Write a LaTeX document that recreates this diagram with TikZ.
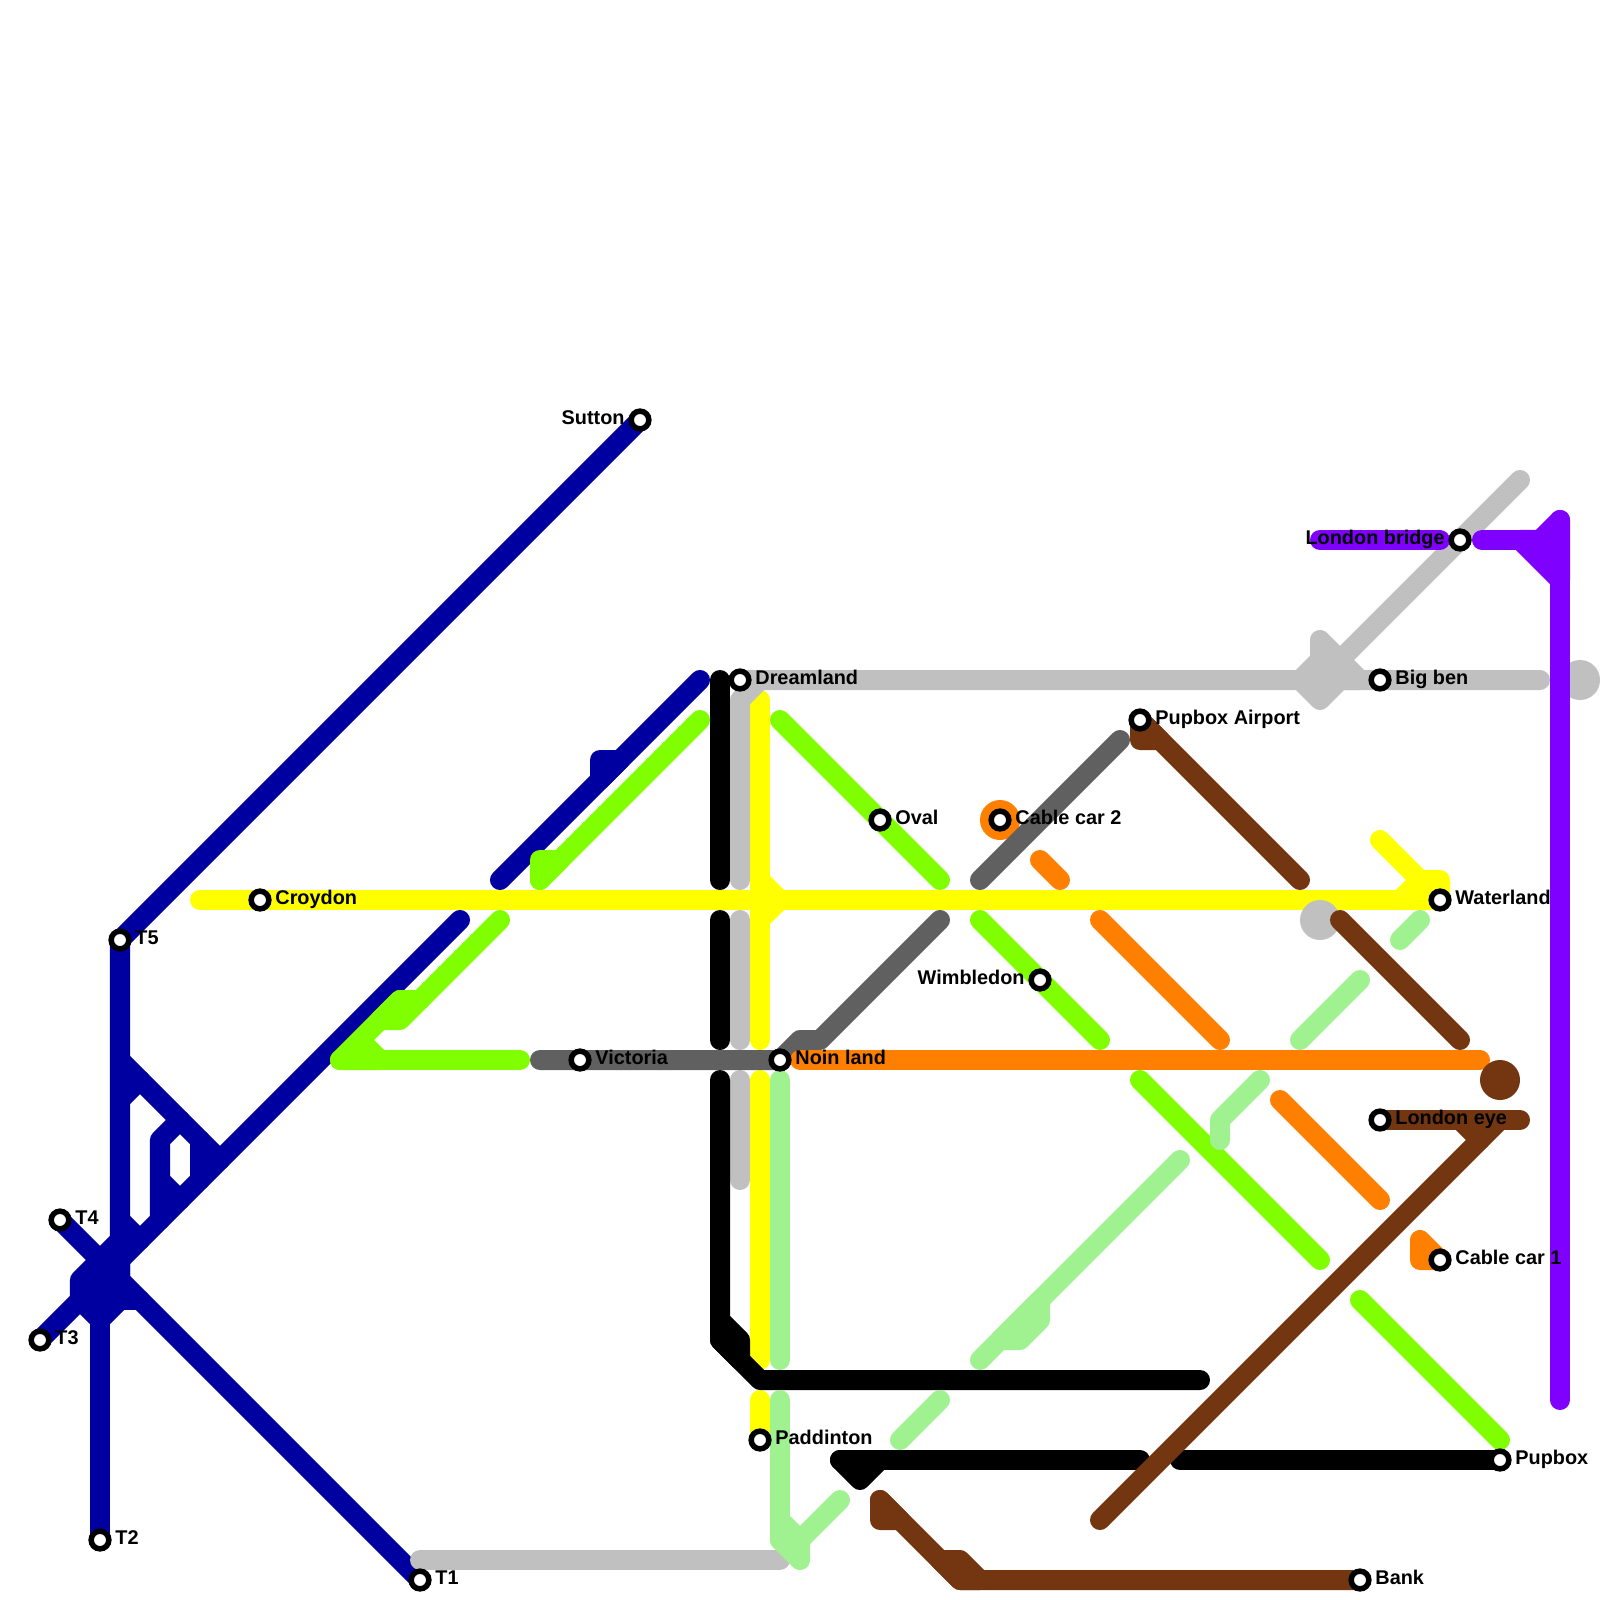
\documentclass[tikz,border=0pt]{standalone}
\usepackage{fontspec}
\setmainfont{Liberation Sans}
\definecolor{navyc}{HTML}{0000A0}
\definecolor{limec}{HTML}{80FF00}
\definecolor{mintc}{HTML}{A0F290}
\definecolor{dgrayc}{HTML}{606060}
\definecolor{lgrayc}{HTML}{C0C0C0}
\definecolor{brownc}{HTML}{733610}
\definecolor{orangec}{HTML}{FF8000}
\definecolor{purplec}{HTML}{8000FF}
\definecolor{yellowc}{HTML}{FFFF00}
\tikzset{
  mline/.style={line width=0.2cm,line cap=round,line join=round},
  navyl/.style={mline,draw=navyc},
  limel/.style={mline,draw=limec},
  mintl/.style={mline,draw=mintc},
  dgrayl/.style={mline,draw=dgrayc},
  lgrayl/.style={mline,draw=lgrayc},
  brownl/.style={mline,draw=brownc},
  orangel/.style={mline,draw=orangec},
  purplel/.style={mline,draw=purplec},
  yellowl/.style={mline,draw=yellowc},
  blackl/.style={mline,draw=black},
  stnode/.style={circle,draw=black,fill=white,line width=0.055cm,minimum size=0.177cm,inner sep=0pt},
  lblr/.style={anchor=base west,xshift=0.147cm,yshift=-0.045cm,inner sep=0pt,text=black,font=\bfseries\fontsize{5.65}{6}\selectfont},
  lbll/.style={anchor=base east,xshift=-0.147cm,yshift=-0.045cm,inner sep=0pt,text=black,font=\bfseries\fontsize{5.65}{6}\selectfont},
}
\newcommand{\stnR}[2]{\node[stnode] (#1s) at (#1) {}; \node[lblr] (#1t) at (#1) {#2};}
\newcommand{\stnL}[2]{\node[stnode] (#1s) at (#1) {}; \node[lbll] (#1t) at (#1) {#2};}
\begin{document}
\begin{tikzpicture}[x=0.01cm,y=-0.01cm]
\useasboundingbox (0,0) rectangle (1600,1600);
% stations
\coordinate (Sutton) at (640,420);
\coordinate (Croydon) at (260,900);
\coordinate (Tfive) at (120,940);
\coordinate (Tfour) at (60,1220);
\coordinate (Tthree) at (40,1340);
\coordinate (Ttwo) at (100,1540);
\coordinate (Tone) at (420,1580);
\coordinate (Dreamland) at (740,680);
\coordinate (Victoria) at (580,1060);
\coordinate (Noin) at (780,1060);
\coordinate (Oval) at (880,820);
\coordinate (CableTwo) at (1000,820);
\coordinate (Airport) at (1140,720);
\coordinate (Wimbledon) at (1040,980);
\coordinate (BigBen) at (1380,680);
\coordinate (LBridge) at (1460,540);
\coordinate (Waterland) at (1440,900);
\coordinate (LEye) at (1380,1120);
\coordinate (CableOne) at (1440,1260);
\coordinate (Pupbox) at (1500,1460);
\coordinate (Paddinton) at (760,1440);
\coordinate (Bank) at (1360,1580);
% interchange discs below the lines
\fill[lgrayc] (1580,680) circle (20);
\fill[orangec] (CableTwo) circle (20);
% navy
\draw[navyl] (Sutton) -- (Tfive) -- (120,1280);
\draw[navyl] (Tfour) -- (Tone);
\draw[navyl] (Tthree) -- (460,920);
\draw[navyl] (120,1060) -- (220,1160);
\draw[navyl] (180,1120) -- (160,1140) -- (160,1220);
\draw[navyl] (160,1180) -- (180,1200);
\draw[navyl] (200,1140) -- (200,1180);
\draw[navyl] (120,1100) -- (140,1080);
\draw[navyl] (120,1220) -- (140,1240);
\draw[navyl,fill=navyc] (80,1280) -- (120,1240) -- (120,1300) -- (100,1320) -- (80,1300) -- cycle;
\draw[navyl] (100,1300) -- (140,1300);
\draw[navyl] (100,1320) -- (Ttwo);
\draw[navyl] (500,880) -- (700,680);
\draw[navyl,fill=navyc] (620,760) -- (600,760) -- (600,780) -- cycle;
% lime
\draw[limel] (780,720) -- (940,880);
\draw[limel] (980,920) -- (1100,1040);
\draw[limel] (1140,1080) -- (1320,1260);
\draw[limel] (1360,1300) -- (1500,1440);
\draw[limel] (540,880) -- (700,720);
\draw[limel,fill=limec] (560,860) -- (540,860) -- (540,880) -- cycle;
\draw[limel] (500,920) -- (420,1000);
\draw[limel,fill=limec] (420,1000) -- (400,1000) -- (380,1020) -- (400,1020) -- cycle;
\draw[limel,fill=limec] (400,1000) -- (340,1060) -- (380,1060) -- (360,1040) -- cycle;
\draw[limel] (340,1060) -- (520,1060);
% yellow
\draw[yellowl] (200,900) -- (1400,900);
\draw[yellowl,fill=yellowc] (1400,900) -- (1420,880) -- (1440,880) -- (Waterland) -- cycle;
\draw[yellowl] (1380,840) -- (1420,880);
\draw[yellowl] (760,700) -- (760,1040);
\draw[yellowl,fill=yellowc] (760,880) -- (780,900) -- (760,920) -- cycle;
\draw[yellowl] (760,1080) -- (760,1360);
\draw[yellowl] (760,1400) -- (Paddinton);
% light grey
\fill[lgrayc] (1320,920) circle (20);
\draw[lgrayl] (740,880) -- (740,700) -- (760,680) -- (1540,680);
\draw[lgrayl] (Dreamland) -- (760,680);
\draw[lgrayl] (740,920) -- (740,1040);
\draw[lgrayl] (740,1080) -- (740,1180);
\draw[lgrayl] (420,1560) -- (780,1560);
\draw[lgrayl] (1520,480) -- (1320,680);
\draw[lgrayl,fill=lgrayc] (1300,680) -- (1320,660) -- (1320,640) -- (1360,680) -- (1340,680) -- (1320,700) -- cycle;
% dark grey
\draw[dgrayl] (540,1060) -- (Noin) -- (800,1040) -- (820,1040) -- (940,920);
\draw[dgrayl] (980,880) -- (1120,740);
% black
\draw[blackl] (720,680) -- (720,880);
\draw[blackl] (720,920) -- (720,1040);
\draw[blackl] (720,1080) -- (720,1340) -- (760,1380) -- (1200,1380);
\draw[blackl,fill=black] (720,1320) -- (740,1340) -- (740,1360) -- (720,1340) -- cycle;
\draw[blackl,fill=black] (840,1460) -- (860,1480) -- (880,1460) -- cycle;
\draw[blackl] (840,1460) -- (1140,1460);
\draw[blackl] (1180,1460) -- (Pupbox);
% mint
\draw[mintl] (780,1080) -- (780,1360);
\draw[mintl] (780,1400) -- (780,1540);
\draw[mintl,fill=mintc] (780,1520) -- (800,1540) -- (800,1560) -- (780,1540) -- cycle;
\draw[mintl] (800,1540) -- (840,1500);
\draw[mintl] (900,1440) -- (940,1400);
\draw[mintl] (980,1360) -- (1180,1160);
\draw[mintl,fill=mintc] (1000,1340) -- (1020,1340) -- (1040,1320) -- (1040,1300) -- cycle;
\draw[mintl] (1220,1140) -- (1220,1120) -- (1260,1080);
\draw[mintl] (1300,1040) -- (1360,980);
\draw[mintl] (1400,940) -- (1420,920);
% orange
\draw[orangel] (800,1060) -- (1480,1060);
\draw[orangel] (1040,860) -- (1060,880);
\draw[orangel] (1100,920) -- (1220,1040);
\draw[orangel] (1280,1100) -- (1380,1200);
\draw[orangel,fill=orangec] (1420,1240) -- (CableOne) -- (1420,1260) -- cycle;
% brown
\fill[brownc] (1500,1080) circle (20);
\draw[brownl,fill=brownc] (Airport) -- (1160,740) -- (1140,740) -- cycle;
\draw[brownl] (Airport) -- (1300,880);
\draw[brownl] (1340,920) -- (1460,1040);
\draw[brownl] (LEye) -- (1520,1120);
\draw[brownl] (1100,1520) -- (1500,1120);
\draw[brownl] (1460,1120) -- (1480,1140);
\draw[brownl,fill=brownc] (880,1500) -- (900,1520) -- (880,1520) -- cycle;
\draw[brownl] (880,1500) -- (960,1580) -- (Bank);
\draw[brownl,fill=brownc] (940,1560) -- (960,1560) -- (980,1580) -- (960,1580) -- cycle;
% purple
\draw[purplel] (1320,540) -- (1440,540);
\draw[purplel] (1482,540) -- (1540,540);
\draw[purplel,fill=purplec] (1520,540) -- (1560,580) -- (1560,520) -- (1540,540) -- cycle;
\draw[purplel] (1560,520) -- (1560,1400);
% station markers and labels
\stnL{Sutton}{Sutton}
\stnR{Croydon}{Croydon}
\stnR{Tfive}{T5}
\stnR{Tfour}{T4}
\stnR{Tthree}{T3}
\stnR{Ttwo}{T2}
\stnR{Tone}{T1}
\stnR{Dreamland}{Dreamland}
\stnR{Victoria}{Victoria}
\stnR{Noin}{Noin land}
\stnR{Oval}{Oval}
\stnR{CableTwo}{Cable car 2}
\stnR{Airport}{Pupbox Airport}
\stnL{Wimbledon}{Wimbledon}
\stnR{BigBen}{Big ben}
\stnL{LBridge}{London bridge}
\stnR{Waterland}{Waterland}
\stnR{LEye}{London eye}
\stnR{CableOne}{Cable car 1}
\stnR{Pupbox}{Pupbox}
\stnR{Paddinton}{Paddinton}
\stnR{Bank}{Bank}
\end{tikzpicture}
\end{document}
